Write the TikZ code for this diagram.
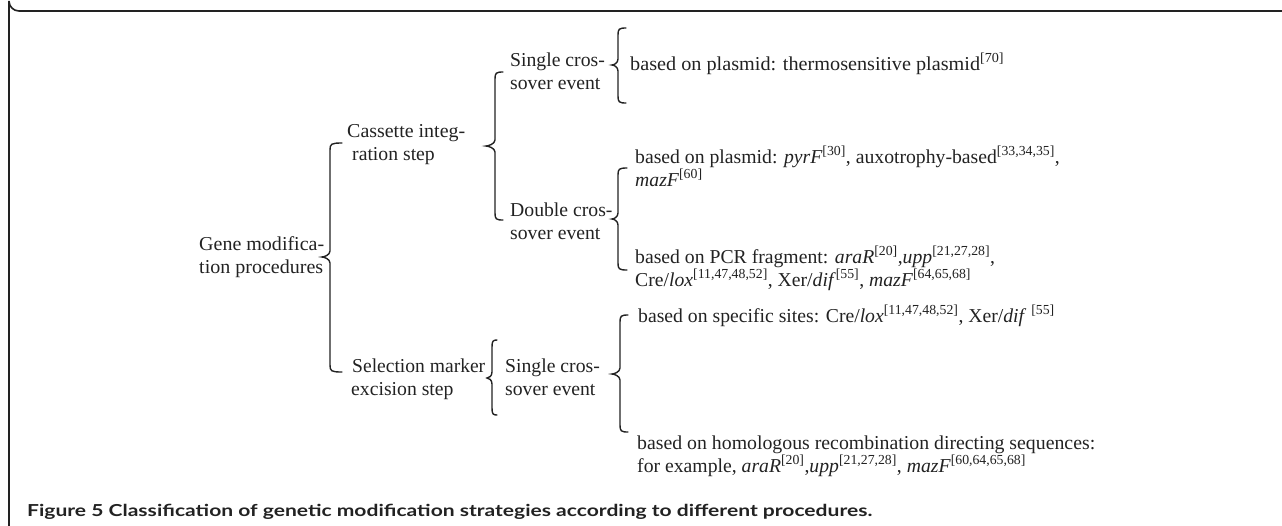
\documentclass[tikz,border=0pt]{standalone}
\usepackage{fontspec}
\usepackage{graphicx}
\setmainfont{Liberation Serif}
\newfontfamily\capfont{Lato}
\definecolor{ink}{HTML}{222222}
\newcommand\tl[2]{\vtop{\baselineskip=23pt\hbox{#1}\hbox{#2}}}
\newcommand\fw[2]{\resizebox{#1pt}{\height}{#2}}
\newcommand\sref[1]{\textsuperscript{[#1]}}
\newcommand\curly[6]{%
  \draw[bracestyle] ({#1+#5},#2) .. controls ({#1+1},#2) and (#1,{#2+1}) .. (#1,{#2+7})
    -- (#1,{#4-6}) .. controls (#1,{#4-2}) and ({#1-#6+2},#4) .. ({#1-#6},#4)
    .. controls ({#1-#6+2},#4) and (#1,{#4+2}) .. (#1,{#4+6})
    -- (#1,{#3-7}) .. controls (#1,{#3-1}) and ({#1+1},#3) .. ({#1+#5},#3);}
\tikzset{
  lbl/.style={anchor=base west, inner sep=0pt, text=ink, font=\fontsize{19.7}{23}\selectfont},
  bracestyle/.style={draw=ink, line width=1.4pt, line cap=round},
  frame/.style={draw=ink, line width=1.6pt}
}
\begin{document}
\begin{tikzpicture}[x=1pt,y=-1pt]
\useasboundingbox (0,0) rectangle (1282,525);
% frame
\draw[frame] (1283,11) -- (19,11) arc[start angle=90, end angle=180, radius=10] -- (9,526);
% texts
\node[lbl] (gm) at (199,250) {\tl{\fw{125}{Gene modifica-}}{\fw{124}{tion procedures}}};
\node[lbl] (cas) at (347,137) {\tl{\fw{118}{Cassette integ-}}{\hspace*{5pt}ration step}};
\node[lbl] (sel) at (352,372) {\tl{\fw{133}{Selection marker}}{\hspace*{-1pt}excision step}};
\node[lbl] (s1) at (510,66) {\tl{Single cros-}{sover event}};
\node[lbl] (d1) at (510,216) {\tl{Double cros-}{sover event}};
\node[lbl] (s2) at (505,372) {\tl{Single cros-}{sover event}};
\node[lbl] (t1) at (630,70) {\fw{374}{based on plasmid: thermosensitive plasmid\sref{70}}};
\node[lbl] (t2) at (635,163) {\tl{based on plasmid: \textit{pyrF}\sref{30}, auxotrophy-based\sref{33,34,35},}{\textit{mazF}\sref{60}}};
\node[lbl] (t3) at (635,263) {\tl{based on PCR fragment: \textit{araR}\sref{20},\textit{upp}\sref{21,27,28},}{Cre/\textit{lox}\sref{11,47,48,52}, Xer/\textit{dif}\sref{55}, \textit{mazF}\sref{64,65,68}}};
\node[lbl] (t4) at (638,322) {based on specific sites: Cre/\textit{lox}\sref{11,47,48,52}, Xer/\textit{dif} \sref{55}};
\node[lbl] (t5) at (637,449) {\tl{\fw{458}{based on homologous recombination directing sequences:}}{for example, \textit{araR}\sref{20},\textit{upp}\sref{21,27,28}, \textit{mazF}\sref{60,64,65,68}}};
\node[anchor=base west, inner sep=0pt, text=ink, font=\capfont\bfseries\fontsize{16.5}{20}\selectfont] (cap) at (27,516) {\fw{845}{Figure 5 Classification of genetic modification strategies according to different procedures.}};
% braces
\curly{330}{143}{372}{257}{12}{8}
\curly{495}{72}{220}{146}{8}{9}
\curly{618}{28}{103}{65}{8}{6}
\curly{618}{168}{270}{219}{9}{6}
\curly{492}{340}{415}{378}{5}{5}
\curly{620}{315}{432}{374}{8}{8}
\end{tikzpicture}
\end{document}
